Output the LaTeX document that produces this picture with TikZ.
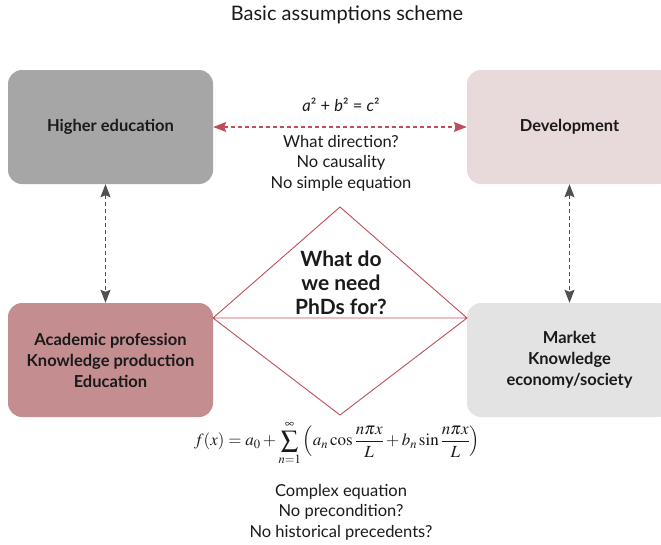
\documentclass[tikz,border=0pt]{standalone}
\usepackage{mathptmx}
\usepackage[no-math]{fontspec}
\setmainfont{Lato}
\usetikzlibrary{arrows.meta}
\definecolor{highgray}{HTML}{A6A6A6}
\definecolor{devpink}{HTML}{E8DADA}
\definecolor{acadrose}{HTML}{C48D8F}
\definecolor{marketgray}{HTML}{E3E3E3}
\definecolor{linered}{HTML}{BE4E5A}
\definecolor{arrowgray}{HTML}{505050}
\definecolor{txt}{HTML}{1A1A1A}
\begin{document}
\begin{tikzpicture}[x=1pt, y=-1pt, >={Stealth[length=13pt, width=10pt, inset=2pt]},
  box/.style={rounded corners=14pt, minimum width=205pt, minimum height=114pt, align=center, text=txt, font=\fontsize{16.5}{21}\selectfont\bfseries},
  note/.style={align=center, text=txt, font=\fontsize{16.5}{20.5}\selectfont}]
\useasboundingbox (0,0) rectangle (661,544);
\node[note, font=\fontsize{20}{22}\selectfont] (title) at (347,15) {Basic assumptions scheme};

\node[box, fill=highgray] (high) at (110.5,127) {Higher education};
\node[box, fill=devpink] (dev) at (569.5,127) {Development};
\node[box, fill=acadrose] (acad) at (110.5,360) {Academic profession\\Knowledge production\\Education};
\node[box, fill=marketgray] (market) at (569.5,360) {Market\\Knowledge\\economy/society};

% connectors
\draw[<->, linered, line width=1.1pt, dash pattern=on 4pt off 3pt] (high) -- (dev);
\draw[<->, arrowgray, line width=1.1pt, dash pattern=on 4pt off 3pt] ([xshift=-5pt]high.south) -- ([xshift=-5pt]acad.north);
\draw[<->, arrowgray, line width=1.1pt, dash pattern=on 4pt off 3pt] (dev) -- (market);

\node[note] (pyth) at (341,105) {\textit{a}² + \textit{b}² = \textit{c}²};
\node[note] (direction) at (341,163) {What direction?\\No causality\\No simple equation};

% diamond
\coordinate (dleft) at (213,318);
\coordinate (dtop) at (340,207);
\coordinate (dright) at (467,318);
\coordinate (dbot) at (340,415);
\draw[linered, line width=0.9pt] (dleft) -- (dtop) -- (dright) -- (dbot) -- cycle (dleft) -- (dright);
\node[align=center, text=txt, font=\fontsize{21}{24}\selectfont\bfseries] (phd) at (341,283) {What do\\we need\\PhDs for?};

\node[text=txt, font=\fontsize{17}{19}\selectfont] (fourier) at (337,443) {$\displaystyle f(x)=a_0+\sum_{n=1}^{\infty}\left(a_n\cos\frac{n\pi x}{L}+b_n\sin\frac{n\pi x}{L}\right)$};
\node[note] (complex) at (341,512) {Complex equation\\No precondition?\\No historical precedents?};
\end{tikzpicture}
\end{document}
